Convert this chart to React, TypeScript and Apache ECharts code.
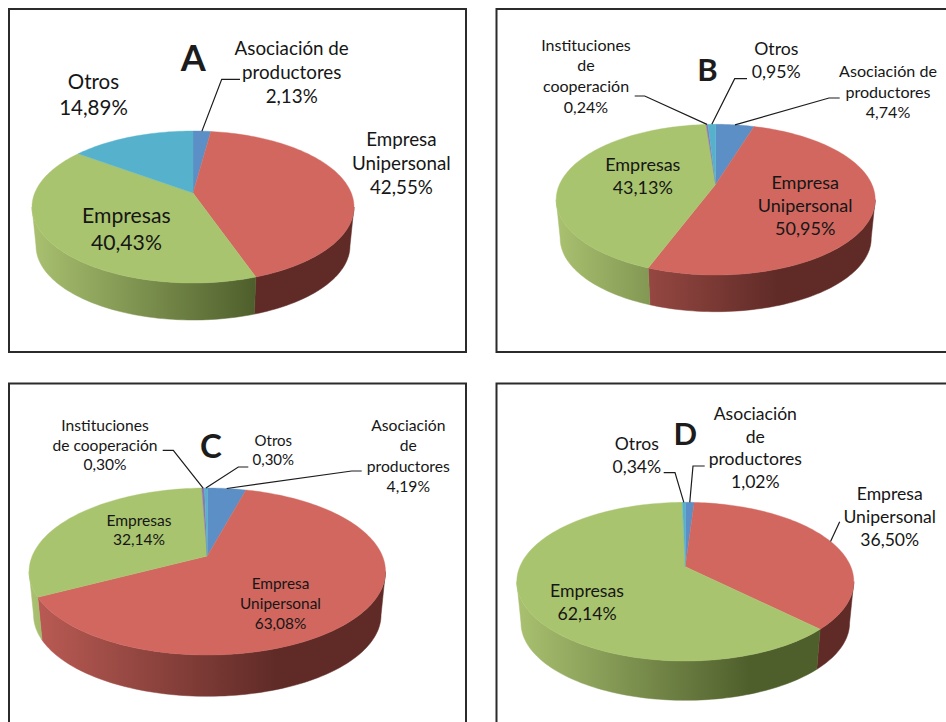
import React, { useEffect, useRef } from "react";
import * as echarts from "echarts";

// Shares per panel, clockwise from twelve o'clock.
const ASOC = "Asociación de productores";
const UNI = "Empresa Unipersonal";
const EMP = "Empresas";
const INST = "Instituciones de cooperación";
const OTROS = "Otros";

const categoriesA = [ASOC, UNI, EMP, OTROS];
const valuesA = [2.13, 42.55, 40.43, 14.89];
const categoriesB = [ASOC, UNI, EMP, INST, OTROS];
const valuesB = [4.74, 50.95, 43.13, 0.24, 0.95];
const categoriesC = [ASOC, UNI, EMP, INST, OTROS];
const valuesC = [4.19, 63.08, 32.14, 0.3, 0.3];
const categoriesD = [ASOC, UNI, EMP, OTROS];
const valuesD = [1.02, 36.5, 62.14, 0.34];

const FONT = "Lato, Carlito, sans-serif";

const topColors: Record<string, string> = {
  [ASOC]: "#5C8FC5",
  [UNI]: "#D1675F",
  [EMP]: "#A9C46E",
  [INST]: "#8B78AE",
  [OTROS]: "#56B2CC",
};
const wallColors: Record<string, [string, string]> = {
  [ASOC]: ["#5C8FC5", "#2F4C6E"],
  [UNI]: ["#BC5C55", "#602B27"],
  [EMP]: ["#A9C170", "#4F5F2C"],
  [INST]: ["#8B78AE", "#483C60"],
  [OTROS]: ["#56B2CC", "#2C5F6E"],
};

type Label = {
  lines: string[];
  cx: number;
  y: number;
  lh: number;
  size: number;
  leader?: number[][];
};
type Panel = {
  letter: string;
  letterX: number;
  letterY: number;
  letterSize: number;
  apex: [number, number];
  top: number;
  bottom: number;
  left: number;
  right: number;
  floor: number;
  categories: string[];
  values: number[];
  labels: Label[];
};

const panels: Panel[] = [
  {
    letter: "A", letterX: 193.2, letterY: 56.5, letterSize: 36,
    apex: [193, 193], top: 131, bottom: 283, left: 32, right: 354, floor: 320,
    categories: categoriesA, values: valuesA,
    labels: [
      { lines: ["Asociación de", "productores"], cx: 291.7, y: 47, lh: 24, size: 18.8, leader: [[221.7, 79.3], [240, 79.3]] },
      { lines: ["Empresa", "Unipersonal"], cx: 401.4, y: 138, lh: 24, size: 18.8 },
      { lines: ["Empresas"], cx: 126.4, y: 215, lh: 27, size: 21.2 },
      { lines: ["Otros"], cx: 93.5, y: 80.7, lh: 26.5, size: 20.5 },
    ],
  },
  {
    letter: "B", letterX: 707.5, letterY: 69, letterSize: 31,
    apex: [715.7, 184.3], top: 124.3, bottom: 275, left: 556.3, right: 875.3, floor: 311.7,
    categories: categoriesB, values: valuesB,
    labels: [
      { lines: ["Asociación de", "productores"], cx: 888, y: 70.7, lh: 20.4, size: 16.1, leader: [[829, 98], [839.7, 98]] },
      { lines: ["Empresa", "Unipersonal"], cx: 805.2, y: 181.7, lh: 23.3, size: 18 },
      { lines: ["Empresas"], cx: 642.8, y: 164, lh: 23.3, size: 18 },
      { lines: ["Instituciones", "de", "cooperación"], cx: 586, y: 44, lh: 20.8, size: 16, leader: [[644.7, 96], [634.7, 96]] },
      { lines: ["Otros"], cx: 776.3, y: 48.3, lh: 23.4, size: 17.7, leader: [[734.7, 78.7], [747, 78.7]] },
    ],
  },
  {
    letter: "C", letterX: 211, letterY: 444.5, letterSize: 33,
    apex: [207.3, 556], top: 488, bottom: 655, left: 29.3, right: 385.7, floor: 696.3,
    categories: categoriesC, values: valuesC,
    labels: [
      { lines: ["Asociación", "de", "productores"], cx: 408.3, y: 425, lh: 20.4, size: 15.7, leader: [[351.7, 471], [361.7, 471]] },
      { lines: ["Empresa", "Unipersonal"], cx: 280.5, y: 582.7, lh: 20, size: 15.4 },
      { lines: ["Empresas"], cx: 139, y: 520, lh: 19.3, size: 15.6 },
      { lines: ["Instituciones", "de cooperación"], cx: 105, y: 425, lh: 19.6, size: 15.6, leader: [[173.3, 450.3], [162.7, 450.3]] },
      { lines: ["Otros"], cx: 273.3, y: 440.3, lh: 19, size: 15, leader: [[238.3, 467], [248.3, 467]] },
    ],
  },
  {
    letter: "D", letterX: 685.2, letterY: 433, letterSize: 31,
    apex: [685.3, 566.7], top: 502.3, bottom: 661, left: 516.7, right: 853.7, floor: 700.3,
    categories: categoriesD, values: valuesD,
    labels: [
      { lines: ["Asociación", "de", "productores"], cx: 755.3, y: 413.3, lh: 22.7, size: 17.6, leader: [[693, 466], [704.7, 466]] },
      { lines: ["Empresa", "Unipersonal"], cx: 889.7, y: 493.3, lh: 22.9, size: 17.6, leader: [[839.7, 521.7]] },
      { lines: ["Empresas"], cx: 587, y: 590.7, lh: 23, size: 17.7 },
      { lines: ["Otros"], cx: 636.8, y: 443.7, lh: 23, size: 17.6, leader: [[675, 472.7], [663.7, 472.7]] },
    ],
  },
];

const frames = [
  { x: 9, y: 9, width: 457, height: 343 },
  { x: 496.5, y: 9, width: 520, height: 343 },
  { x: 9, y: 383.5, width: 457, height: 400 },
  { x: 496.5, y: 383.5, width: 520, height: 400 },
];

const WALL_SHRINK = 0.975;
const RAD = Math.PI / 180;

// Perspective projection of the disc: the far rim is foreshortened, so the
// apex sits above the visual centre of the ellipse.
function makeProjector(p: Panel) {
  const [ax, ay] = p.apex;
  const up = ay - p.top;
  const down = p.bottom - ay;
  const k = (down - up) / (down + up);
  const scaleY = up * (1 + k);
  const scaleX = ((p.right - p.left) / 2) * Math.sqrt(1 - k * k);
  const drop = p.floor - ay - WALL_SHRINK * down;
  const rim = (deg: number) => {
    const t = deg * RAD;
    const w = 1 + k * Math.cos(t);
    return [(scaleX * Math.sin(t)) / w, (-scaleY * Math.cos(t)) / w];
  };
  return {
    // Angle at which the projected rim is widest: the wall's silhouette starts there
    widest: Math.acos(-k) / RAD,
    top: (deg: number) => {
      const [dx, dy] = rim(deg);
      return [ax + dx, ay + dy];
    },
    base: (deg: number) => {
      const [dx, dy] = rim(deg);
      return [ax + WALL_SHRINK * dx, ay + drop + WALL_SHRINK * dy];
    },
  };
}

function arc(fn: (d: number) => number[], from: number, to: number) {
  const n = Math.max(2, Math.ceil(Math.abs(to - from) / 1.5));
  const pts: number[][] = [];
  for (let i = 0; i <= n; i++) pts.push(fn(from + ((to - from) * i) / n));
  return pts;
}

const percent = (v: number) => v.toFixed(2).replace(".", ",") + "%";

function renderSlice(panel: Panel, params: any, api: any) {
  const i = params.dataIndex;
  const total = panel.values.reduce((a, b) => a + b, 0);
  const before = panel.values.slice(0, i).reduce((a, b) => a + b, 0);
  const start = (before / total) * 360;
  const end = ((before + api.value(0)) / total) * 360;
  const mid = (start + end) / 2;
  const proj = makeProjector(panel);
  const cat = panel.categories[i];
  const children: any[] = [];

  // Side wall, only where the rim faces the viewer
  const wallFrom = Math.max(start, proj.widest);
  const wallTo = Math.min(end, 360 - proj.widest);
  if (wallTo > wallFrom) {
    const [light, dark] = wallColors[cat];
    const fill = {
      type: "linear",
      global: true,
      x: panel.left,
      y: 0,
      x2: panel.right,
      y2: 0,
      colorStops: [
        { offset: 0, color: light },
        { offset: 0.69, color: dark },
        { offset: 1, color: dark },
      ],
    };
    children.push({
      type: "polygon",
      z2: 1,
      shape: { points: [...arc(proj.top, wallFrom, wallTo), ...arc(proj.base, wallTo, wallFrom)] },
      style: { fill, stroke: fill, lineWidth: 0.5 },
    });
  }

  // Top face
  children.push({
    type: "polygon",
    z2: 2,
    shape: { points: [panel.apex, ...arc(proj.top, start, end)] },
    style: { fill: topColors[cat], stroke: topColors[cat], lineWidth: 0.4 },
  });

  // Label, with the value as its last line, and its leader line
  const label = panel.labels[i];
  if (label.leader) {
    children.push({
      type: "polyline",
      z2: 3,
      shape: { points: [proj.top(mid), ...label.leader] },
      style: { fill: "none", stroke: "#1c1c1c", lineWidth: 1.2 },
    });
  }
  [...label.lines, percent(api.value(0))].forEach((line, n) => {
    children.push({
      type: "text",
      z2: 4,
      style: {
        text: line,
        x: label.cx,
        y: label.y + n * label.lh,
        align: "center",
        verticalAlign: "middle",
        fontFamily: FONT,
        fontSize: label.size,
        fill: "#161616",
      },
    });
  });
  return { type: "group", children };
}

export default function App() {
  const ref = useRef<HTMLDivElement>(null);
  useEffect(() => {
    const chart = echarts.init(ref.current!, undefined, { renderer: "svg" });
    chart.setOption({
      animation: false,
      backgroundColor: "#ffffff",
      graphic: [
        ...frames.map((f) => ({
          type: "rect",
          shape: f,
          style: { fill: "none", stroke: "#2b2b2b", lineWidth: 2 },
        })),
        ...panels.map((p) => ({
          type: "text",
          x: p.letterX,
          y: p.letterY,
          style: {
            text: p.letter,
            align: "center",
            verticalAlign: "middle",
            fontFamily: FONT,
            fontWeight: "bold",
            fontSize: p.letterSize,
            fill: "#1c1c1c",
          },
        })),
      ],
      series: panels.map((p) => ({
        type: "custom",
        name: p.letter,
        coordinateSystem: "none",
        silent: true,
        data: p.values.map((v, i) => ({ name: p.categories[i], value: [v] })),
        renderItem: (params: any, api: any) => renderSlice(p, params, api),
      })),
    });
    return () => chart.dispose();
  }, []);
  return (
    <div
      ref={ref}
      style={{ position: "absolute", left: 0, top: 0, width: 946, height: 722, overflow: "hidden" }}
    />
  );
}
